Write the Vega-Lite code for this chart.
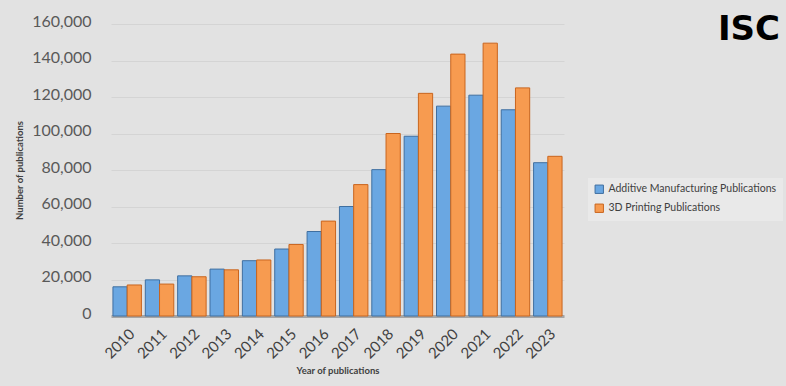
{
  "$schema": "https://vega.github.io/schema/vega-lite/v6.json",
  "width": 453,
  "height": 292,
  "autosize": "none",
  "padding": {"left": 111, "top": 24, "right": 222, "bottom": 70},
  "background": "#e2e2e2",
  "title": {"text": "ISC", "anchor": "end", "frame": "group", "orient": "top", "fontSize": 34, "fontWeight": 900, "font": "DejaVu Sans", "color": "#000000", "dx": 216, "dy": 34, "offset": 0},
  "data": {"values": [
    {"year": "2010", "series": "Additive Manufacturing Publications", "value": 16000},
    {"year": "2010", "series": "3D Printing Publications", "value": 17000},
    {"year": "2011", "series": "Additive Manufacturing Publications", "value": 19800},
    {"year": "2011", "series": "3D Printing Publications", "value": 17500},
    {"year": "2012", "series": "Additive Manufacturing Publications", "value": 22000},
    {"year": "2012", "series": "3D Printing Publications", "value": 21500},
    {"year": "2013", "series": "Additive Manufacturing Publications", "value": 25700},
    {"year": "2013", "series": "3D Printing Publications", "value": 25300},
    {"year": "2014", "series": "Additive Manufacturing Publications", "value": 30300},
    {"year": "2014", "series": "3D Printing Publications", "value": 30700},
    {"year": "2015", "series": "Additive Manufacturing Publications", "value": 36700},
    {"year": "2015", "series": "3D Printing Publications", "value": 39200},
    {"year": "2016", "series": "Additive Manufacturing Publications", "value": 46300},
    {"year": "2016", "series": "3D Printing Publications", "value": 52000},
    {"year": "2017", "series": "Additive Manufacturing Publications", "value": 60000},
    {"year": "2017", "series": "3D Printing Publications", "value": 72000},
    {"year": "2018", "series": "Additive Manufacturing Publications", "value": 80200},
    {"year": "2018", "series": "3D Printing Publications", "value": 100000},
    {"year": "2019", "series": "Additive Manufacturing Publications", "value": 98500},
    {"year": "2019", "series": "3D Printing Publications", "value": 122000},
    {"year": "2020", "series": "Additive Manufacturing Publications", "value": 115000},
    {"year": "2020", "series": "3D Printing Publications", "value": 143500},
    {"year": "2021", "series": "Additive Manufacturing Publications", "value": 121000},
    {"year": "2021", "series": "3D Printing Publications", "value": 149500},
    {"year": "2022", "series": "Additive Manufacturing Publications", "value": 113000},
    {"year": "2022", "series": "3D Printing Publications", "value": 125000},
    {"year": "2023", "series": "Additive Manufacturing Publications", "value": 84000},
    {"year": "2023", "series": "3D Printing Publications", "value": 87500}
  ]},
  "mark": {"type": "bar", "strokeWidth": 1},
  "encoding": {
    "x": {
      "field": "year", "type": "nominal",
      "scale": {"paddingInner": 0.12, "paddingOuter": 0.06},
      "axis": {
        "title": "Year of publications", "titleFont": "Lato", "titleFontSize": 9.5, "titleFontWeight": "bold", "titleColor": "#404040", "titlePadding": 4,
        "labelAngle": -45, "labelFont": "Lato", "labelFontSize": 15, "labelColor": "#404040", "labelPadding": 10,
        "ticks": false, "domainColor": "#a6a6a6", "domainWidth": 3
      }
    },
    "xOffset": {"field": "series", "type": "nominal", "sort": ["Additive Manufacturing Publications", "3D Printing Publications"]},
    "y": {
      "field": "value", "type": "quantitative",
      "scale": {"domain": [0, 160000]},
      "axis": {
        "title": "Number of publications", "titleFont": "Lato", "titleFontSize": 9.5, "titleFontWeight": "bold", "titleColor": "#404040", "titlePadding": 7,
        "tickCount": 8, "format": ",d", "labelFont": "Lato", "labelFontSize": 16, "labelColor": "#595959", "labelPadding": 20, "labelOffset": -3,
        "ticks": false, "domain": false, "gridColor": "#d4d4d4", "gridWidth": 1
      }
    },
    "color": {
      "field": "series", "type": "nominal",
      "sort": ["Additive Manufacturing Publications", "3D Printing Publications"],
      "scale": {"domain": ["Additive Manufacturing Publications", "3D Printing Publications"], "range": ["#6aa7e2", "#f79b50"]},
      "legend": {
        "title": null, "orient": "none", "legendX": 477, "legendY": 154,
        "labelFont": "Lato", "labelFontSize": 10.5, "labelColor": "#404040",
        "symbolType": "square", "symbolSize": 70, "symbolStrokeWidth": 1,
        "fillColor": "#e9e9e9", "padding": 6, "rowPadding": 6, "labelLimit": 300
      }
    },
    "stroke": {
      "field": "series", "type": "nominal",
      "scale": {"domain": ["Additive Manufacturing Publications", "3D Printing Publications"], "range": ["#3f6fa0", "#c9651e"]},
      "legend": null
    }
  },
  "config": {"view": {"stroke": null}}
}
